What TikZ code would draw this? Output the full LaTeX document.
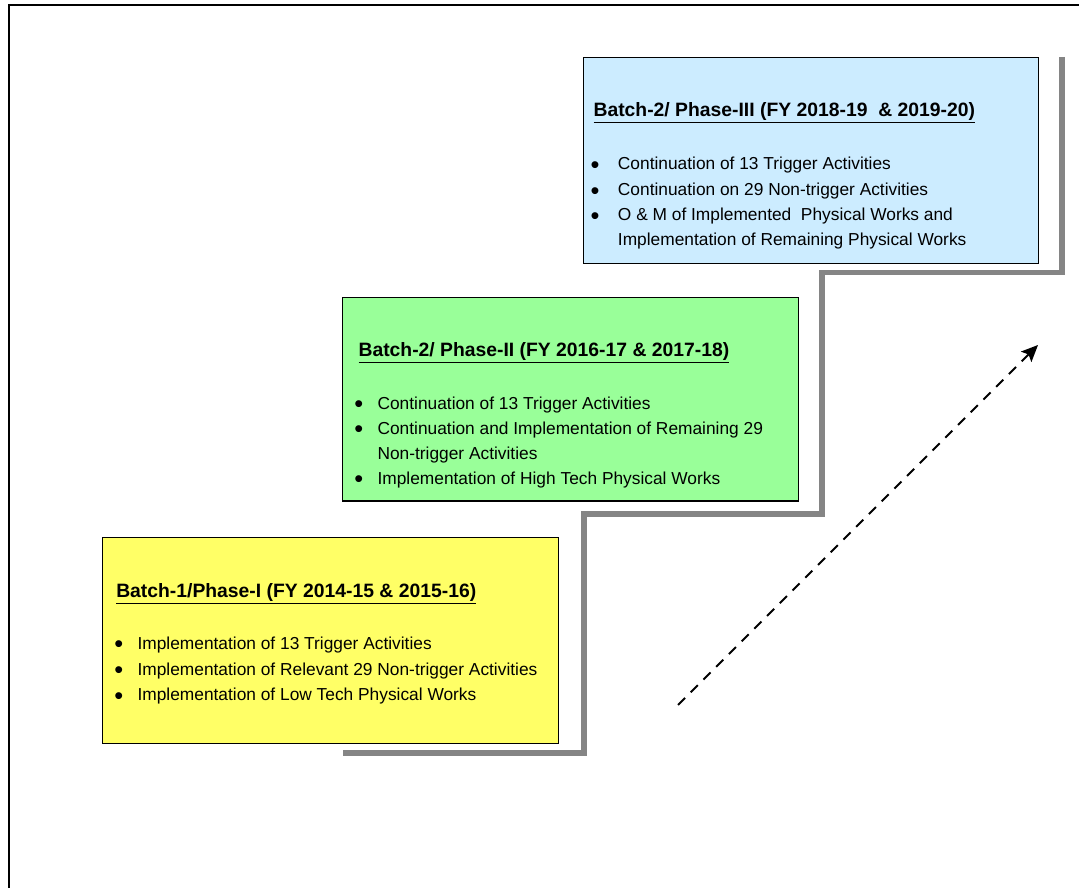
\documentclass[tikz,border=0pt]{standalone}
\usepackage{fontspec}
\setmainfont{Liberation Sans}
\usetikzlibrary{arrows.meta}
\definecolor{yellowbox}{HTML}{FFFF66}
\definecolor{greenbox}{HTML}{99FF99}
\definecolor{bluebox}{HTML}{CCECFF}
\definecolor{shadowgray}{HTML}{858585}
\tikzset{
  phasebox/.style={draw=black, line width=1.1pt, anchor=north west, inner sep=0pt},
  titletext/.style={anchor=base west, inner sep=0pt, font=\fontsize{14.5}{17}\selectfont\bfseries},
  itemtext/.style={anchor=base west, inner sep=0pt, font=\fontsize{13}{15}\selectfont},
  bulletmark/.style={anchor=center, inner sep=0pt, yshift=-2.2pt, font=\fontsize{19}{21}\selectfont},
  stairshadow/.style={draw=shadowgray, line width=4.4pt, line join=miter},
  outerframe/.style={draw=black, line width=1.9pt, line join=miter},
  trendarrow/.style={draw=black, line width=1.5pt, dash pattern=on 7.5pt off 6pt,
     -{Stealth[length=12.5pt, width=11pt, inset=2.5pt]}}
}
\begin{document}
\begin{tikzpicture}[x=0.75pt, y=-0.75pt]
\useasboundingbox (0,0) rectangle (1079,888);
% outer frame
\coordinate (frameTR) at (1079,5);
\coordinate (frameTL) at (9.2,5);
\coordinate (frameBL) at (9.2,888);
\draw[outerframe] (frameTR) -- (frameTL) -- (frameBL);
% staircase shadow
\draw[stairshadow] (1062,57) -- (1062,272.5) -- (822,272.5) -- (822,513.7)
   -- (583.7,513.7) -- (583.7,753.3) -- (343,753.3);
% boxes
\node[phasebox, fill=yellowbox, minimum width=342pt, minimum height=154.5pt] (phaseone) at (102,537) {};
\node[phasebox, fill=greenbox, minimum width=342pt, minimum height=152.5pt] (phasetwo) at (342,297) {};
\node[phasebox, fill=bluebox, minimum width=341.25pt, minimum height=154.5pt] (phasethree) at (583,57) {};
% Phase I text
\node[titletext] (t1) at (116,597) {\underline{Batch-1/Phase-I (FY 2014-15 \& 2015-16)}};
\node[bulletmark] (b11) at (118.8,644) {\textbullet};
\node[itemtext] (i11) at (137.3,649.3) {Implementation of 13 Trigger Activities};
\node[bulletmark] (b12) at (118.8,670) {\textbullet};
\node[itemtext] (i12) at (137.3,675.3) {Implementation of Relevant 29 Non-trigger Activities};
\node[bulletmark] (b13) at (118.8,695.2) {\textbullet};
\node[itemtext] (i13) at (137.3,700.5) {Implementation of Low Tech Physical Works};
% Phase II text
\node[titletext] (t2) at (358.3,356.7) {\underline{Batch-2/ Phase-II (FY 2016-17 \& 2017-18)}};
\node[bulletmark] (b21) at (358.8,404) {\textbullet};
\node[itemtext] (i21) at (377.3,409.3) {Continuation of 13 Trigger Activities};
\node[bulletmark] (b22) at (358.8,429) {\textbullet};
\node[itemtext] (i22) at (377.3,434.3) {Continuation and Implementation of Remaining 29};
\node[itemtext] (i22b) at (377.3,459.3) {Non-trigger Activities};
\node[bulletmark] (b23) at (358.8,478.7) {\textbullet};
\node[itemtext] (i23) at (377.3,484) {Implementation of High Tech Physical Works};
% Phase III text
\node[titletext] (t3) at (593.3,116.7) {\underline{Batch-2/ Phase-III (FY 2018-19\ \ \& 2019-20)}};
\node[bulletmark] (b31) at (595,164.7) {\textbullet};
\node[itemtext] (i31) at (617.7,170) {Continuation of 13 Trigger Activities};
\node[bulletmark] (b32) at (595,190.4) {\textbullet};
\node[itemtext] (i32) at (617.7,195.7) {Continuation on 29 Non-trigger Activities};
\node[bulletmark] (b33) at (595,215.7) {\textbullet};
\node[itemtext] (i33) at (617.7,221) {O \& M of Implemented\ \ Physical Works and};
\node[itemtext] (i33b) at (617.7,246) {Implementation of Remaining Physical Works};
% trend arrow
\coordinate (arrowstart) at (678,705);
\coordinate (arrowend) at (1038,345);
\draw[trendarrow] (arrowstart) -- (arrowend);
\end{tikzpicture}
\end{document}
